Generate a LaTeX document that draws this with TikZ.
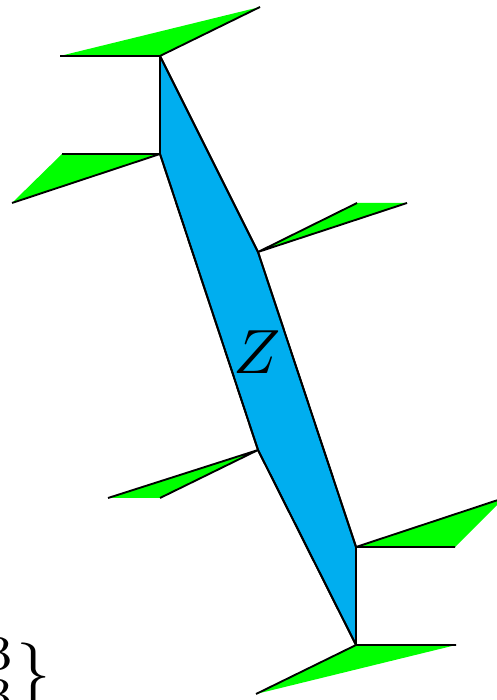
\documentclass[tikz,border=0pt]{standalone}
\usepackage{amsmath}
\usepackage{tikz}
\usetikzlibrary{calc}
\definecolor{zcyan}{RGB}{0,174,239}
\definecolor{wgreen}{RGB}{0,255,0}
\tikzset{
  body/.style  = {draw=black, fill=zcyan, line width=0.3pt, line join=round},
  wing/.style  = {fill=wgreen},
  wedge/.style = {draw=black, line width=0.3pt, line join=round}
}
\begin{document}
\begin{tikzpicture}[x=0.16pt, y=-0.16pt]
\useasboundingbox (0,0) rectangle (497,700);
% corners of the band
\coordinate (T)  at (160,56);
\coordinate (TL) at (160,154);
\coordinate (MR) at (258,252);
\coordinate (ML) at (258,450);
\coordinate (BR) at (356,547);
\coordinate (B)  at (356,645);
\fill[body] (T) -- (MR) -- (BR) -- (B) -- (ML) -- (TL) -- cycle;
\node (Z) at (257,352) {$Z$};
% wings
\fill[wing] (T) -- ++(-100,0) -- ($(T)+(100,-49)$) -- cycle;
\draw[wedge] ($(T)+(-100,0)$) -- (T) -- ++(100,-49);
\fill[wing] (TL) -- ++(-98,0) -- ($(TL)+(-148,49)$) -- cycle;
\draw[wedge] ($(TL)+(-98,0)$) -- (TL) -- ++(-148,49);
\fill[wing] (MR) -- ++(99,-49) -- ++(50,0) -- cycle;
\draw[wedge] ($(MR)+(99,-49)$) -- (MR) -- ++(149,-49);
\fill[wing] (ML) -- ++(-150,48) -- ++(52,0) -- cycle;
\draw[wedge] ($(ML)+(-150,48)$) -- (ML) -- ++(-98,48);
\fill[wing] (BR) -- ++(99,0) -- ($(BR)+(148,-49)$) -- cycle;
\draw[wedge] ($(BR)+(99,0)$) -- (BR) -- ++(148,-49);
\fill[wing] (B) -- ++(100,0) -- ($(B)+(-100,49)$) -- cycle;
\draw[wedge] ($(B)+(100,0)$) -- (B) -- ++(-100,49);
% band edges on top of the wings
\draw[body, fill=none] (T) -- (MR) -- (BR) -- (B) -- (ML) -- (TL) -- cycle;
\node[anchor=base east, inner sep=0pt, scale=1.1] (brace) at (52,694) {${}^{3}_{3}\}$};
\end{tikzpicture}
\end{document}
